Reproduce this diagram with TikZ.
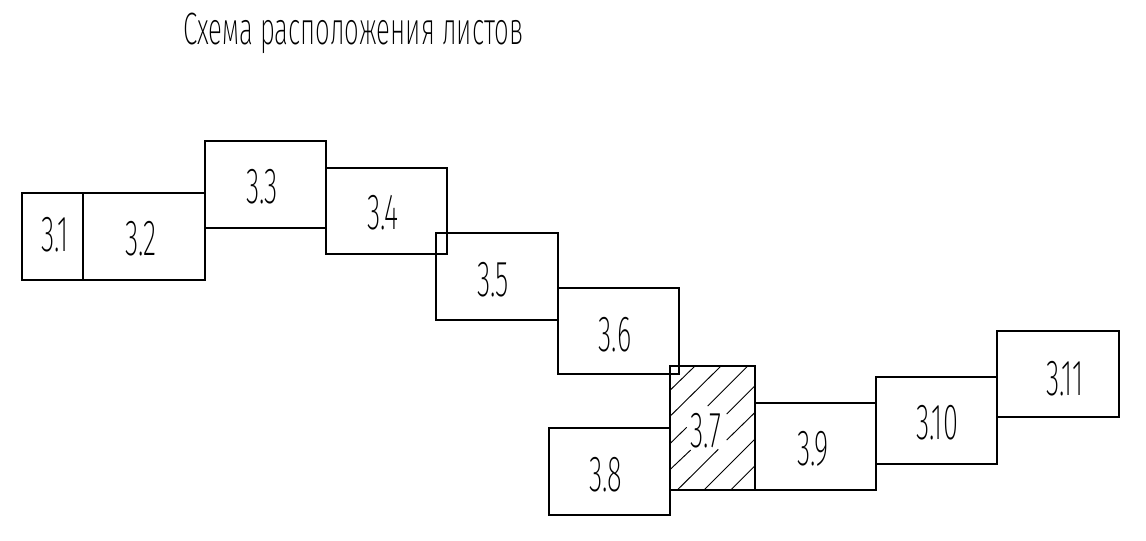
\documentclass[tikz,border=0pt]{standalone}
\usepackage{fontspec}
\setmainfont{Fira Sans ExtraLight}[FakeStretch=0.57]
\newfontfamily\digitfont{Fira Sans ExtraLight}[FakeStretch=0.54]
\tikzset{
  x=0.75pt,y=-0.75pt,
  sheet/.style 2 args={draw=black,line width=0.95pt,inner sep=0pt,minimum width=#1*0.75pt,minimum height=#2*0.75pt},
  lbl/.style={inner sep=0pt,font=\digitfont\fontsize{38}{40}\selectfont},
  ttl/.style={inner sep=0pt,font=\fontsize{34}{36}\selectfont},
  hatch/.style={line width=0.7pt}
}
\begin{document}
\begin{tikzpicture}
\useasboundingbox (0,0) rectangle (1146,540);
\node[sheet={61}{87}] (s1) at (52.5,236.5) {};
\node[sheet={122}{87}] (s2) at (144,236.5) {};
\node[sheet={121}{87}] (s3) at (265.5,184.5) {};
\node[sheet={121}{86}] (s4) at (386.5,211) {};
\node[sheet={122}{87}] (s5) at (497,276.5) {};
\node[sheet={121}{86}] (s6) at (618.5,331) {};
\node[sheet={85}{124}] (s7) at (712.5,428) {};
\node[sheet={121}{87}] (s8) at (609.5,471.5) {};
\node[sheet={121}{87}] (s9) at (815.5,446.5) {};
\node[sheet={121}{87}] (s10) at (936.5,420.5) {};
\node[sheet={122}{86}] (s11) at (1058,374) {};
\node[lbl] (t1) at (55,235) {3.1};
\node[lbl] (t2) at (141,239) {3.2};
\node[lbl] (t3) at (262,187) {3.3};
\node[lbl] (t4) at (383,213) {3.4};
\node[lbl] (t5) at (493,280) {3.5};
\node[lbl] (t6) at (615,335) {3.6};
\node[lbl] (t7) at (706,431) {3.7};
\node[lbl] (t8) at (606,475) {3.8};
\node[lbl] (t9) at (813,449) {3.9};
\node[lbl] (t10) at (937,423) {3.10};
\node[lbl] (t11) at (1065,379) {3.11};
\node[ttl,anchor=west] (title) at (183,33) {Схема расположения листов};
\draw[hatch] (670.3,390) -- (695,366);
\draw[hatch] (670.3,416) -- (721,366);
\draw[hatch] (670.3,443.3) -- (686.7,427.3);
\draw[hatch] (707.7,406) -- (747.7,366);
\draw[hatch] (670.3,469.3) -- (690.7,450);
\draw[hatch] (726.7,414) -- (754.7,386);
\draw[hatch] (677.3,490) -- (718.3,449.3);
\draw[hatch] (726.7,440) -- (754.7,412.7);
\draw[hatch] (704,490) -- (754.7,439.3);
\draw[hatch] (730.7,490) -- (754.7,466);
\end{tikzpicture}
\end{document}
